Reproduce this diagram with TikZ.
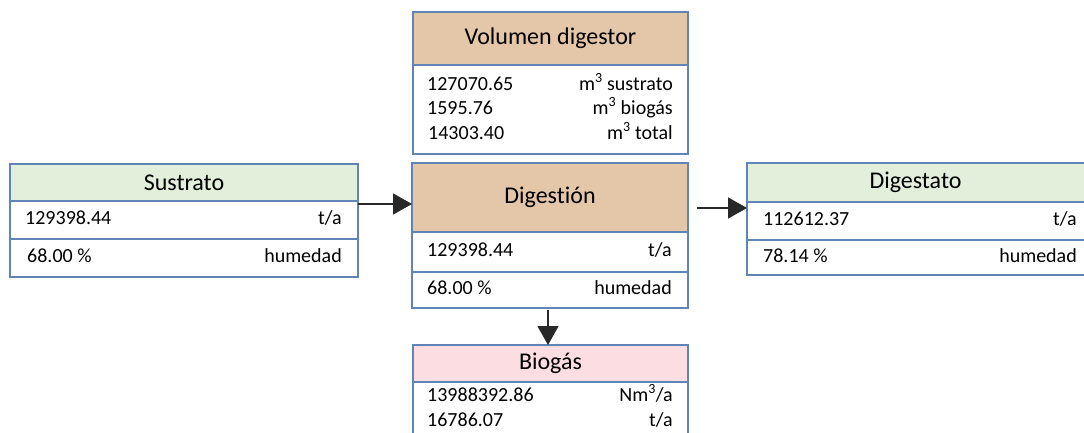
\documentclass[tikz,border=0pt]{standalone}
\usepackage{fontspec}
\setmainfont[Ligatures=NoCommon]{Carlito}
\usetikzlibrary{arrows.meta}
\definecolor{frame}{RGB}{96,132,182}
\definecolor{hgreen}{RGB}{226,239,218}
\definecolor{htan}{RGB}{228,199,168}
\definecolor{hpink}{RGB}{252,222,226}
\definecolor{flow}{RGB}{40,40,40}
\begin{document}
\begin{tikzpicture}[x=1pt,y=-1pt,
  cell/.style={draw=frame, line width=1.1pt, fill=white, inner sep=0pt, outer sep=0pt, anchor=north west},
  hdr/.style={cell, font=\fontsize{24}{28}\selectfont},
  val/.style={font=\fontsize{20}{24}\selectfont, inner sep=0pt, text height=13pt, text depth=4pt},
  arr/.style={draw=flow, line width=1.4pt, -{Triangle[length=19pt,width=21pt]}}]
\useasboundingbox (0,0) rectangle (1084,433);
\clip (0,0) rectangle (1084,433);

% Sustrato
\node[hdr, fill=hgreen, minimum width=348pt, minimum height=37pt] (sh) at (10,164) {Sustrato};
\node[cell, minimum width=348pt, minimum height=38pt] (s1) at (10,201) {};
\node[cell, minimum width=348pt, minimum height=38pt] (s2) at (10,239) {};
\node[val, anchor=west] (s1l) at ([xshift=15pt]s1.west) {129398.44};
\node[val, anchor=east] (s1r) at ([xshift=-16pt]s1.east) {t/a};
\node[val, anchor=west] (s2l) at ([xshift=17pt]s2.west) {68.00 \%};
\node[val, anchor=east] (s2r) at ([xshift=-16pt]s2.east) {humedad};

% Volumen digestor
\node[hdr, fill=htan, minimum width=275pt, minimum height=53pt] (vh) at (413,12) {Volumen digestor};
\node[cell, minimum width=275pt, minimum height=89pt] (vb) at (413,65) {};
\node[val, anchor=west] (v1l) at (427,86) {127070.65};
\node[val, anchor=east] (v1r) at (673,86) {m\textsuperscript{3} sustrato};
\node[val, anchor=west] (v2l) at (427,110) {1595.76};
\node[val, anchor=east] (v2r) at (673,110) {m\textsuperscript{3} biogás};
\node[val, anchor=west] (v3l) at (428,135) {14303.40};
\node[val, anchor=east] (v3r) at (673,135) {m\textsuperscript{3} total};

% Digestión
\node[hdr, fill=htan, minimum width=276pt, minimum height=69pt] (dh) at (412,163) {Digestión};
\node[cell, minimum width=276pt, minimum height=40pt] (d1) at (412,232) {};
\node[cell, minimum width=276pt, minimum height=36pt] (d2) at (412,272) {};
\node[val, anchor=west] (d1l) at ([xshift=15pt]d1.west) {129398.44};
\node[val, anchor=east] (d1r) at ([xshift=-16pt]d1.east) {t/a};
\node[val, anchor=west] (d2l) at ([xshift=15pt]d2.west) {68.00 \%};
\node[val, anchor=east] (d2r) at ([xshift=-16pt]d2.east) {humedad};

% Digestato
\node[hdr, fill=hgreen, minimum width=345pt, minimum height=39pt, text width=330pt, align=center] (gh) at (747,163) {\hspace*{-8pt}Digestato};
\node[cell, minimum width=345pt, minimum height=38pt] (g1) at (747,202) {};
\node[cell, minimum width=345pt, minimum height=35pt] (g2) at (747,240) {};
\node[val, anchor=west] (g1l) at ([xshift=16pt]g1.west) {112612.37};
\node[val, anchor=east] (g1r) at (1077,221) {t/a};
\node[val, anchor=west] (g2l) at ([xshift=16pt]g2.west) {78.14 \%};
\node[val, anchor=east] (g2r) at (1077,257.5) {humedad};

% Biogás
\node[hdr, fill=hpink, minimum width=275pt, minimum height=37pt] (bh) at (413,345) {Biogás};
\node[cell, minimum width=275pt, minimum height=70pt] (bb) at (413,382) {};
\node[val, anchor=west] (b1l) at (427,397) {13988392.86};
\node[val, anchor=east] (b1r) at (673,397) {Nm\textsuperscript{3}/a};
\node[val, anchor=west] (b2l) at (427,422) {16786.07};
\node[val, anchor=east] (b2r) at (673,422) {t/a};

% Flows
\draw[arr] ([yshift=-3pt]sh.south east) -- ([yshift=-6.5pt]dh.west);
\draw[arr] ([xshift=9pt,yshift=-10.5pt]dh.east) -- ([yshift=-25.5pt]gh.west);
\draw[arr] ([xshift=136pt,yshift=-2pt]d2.south west) -- ([xshift=135pt]bh.north west);
\end{tikzpicture}
\end{document}
